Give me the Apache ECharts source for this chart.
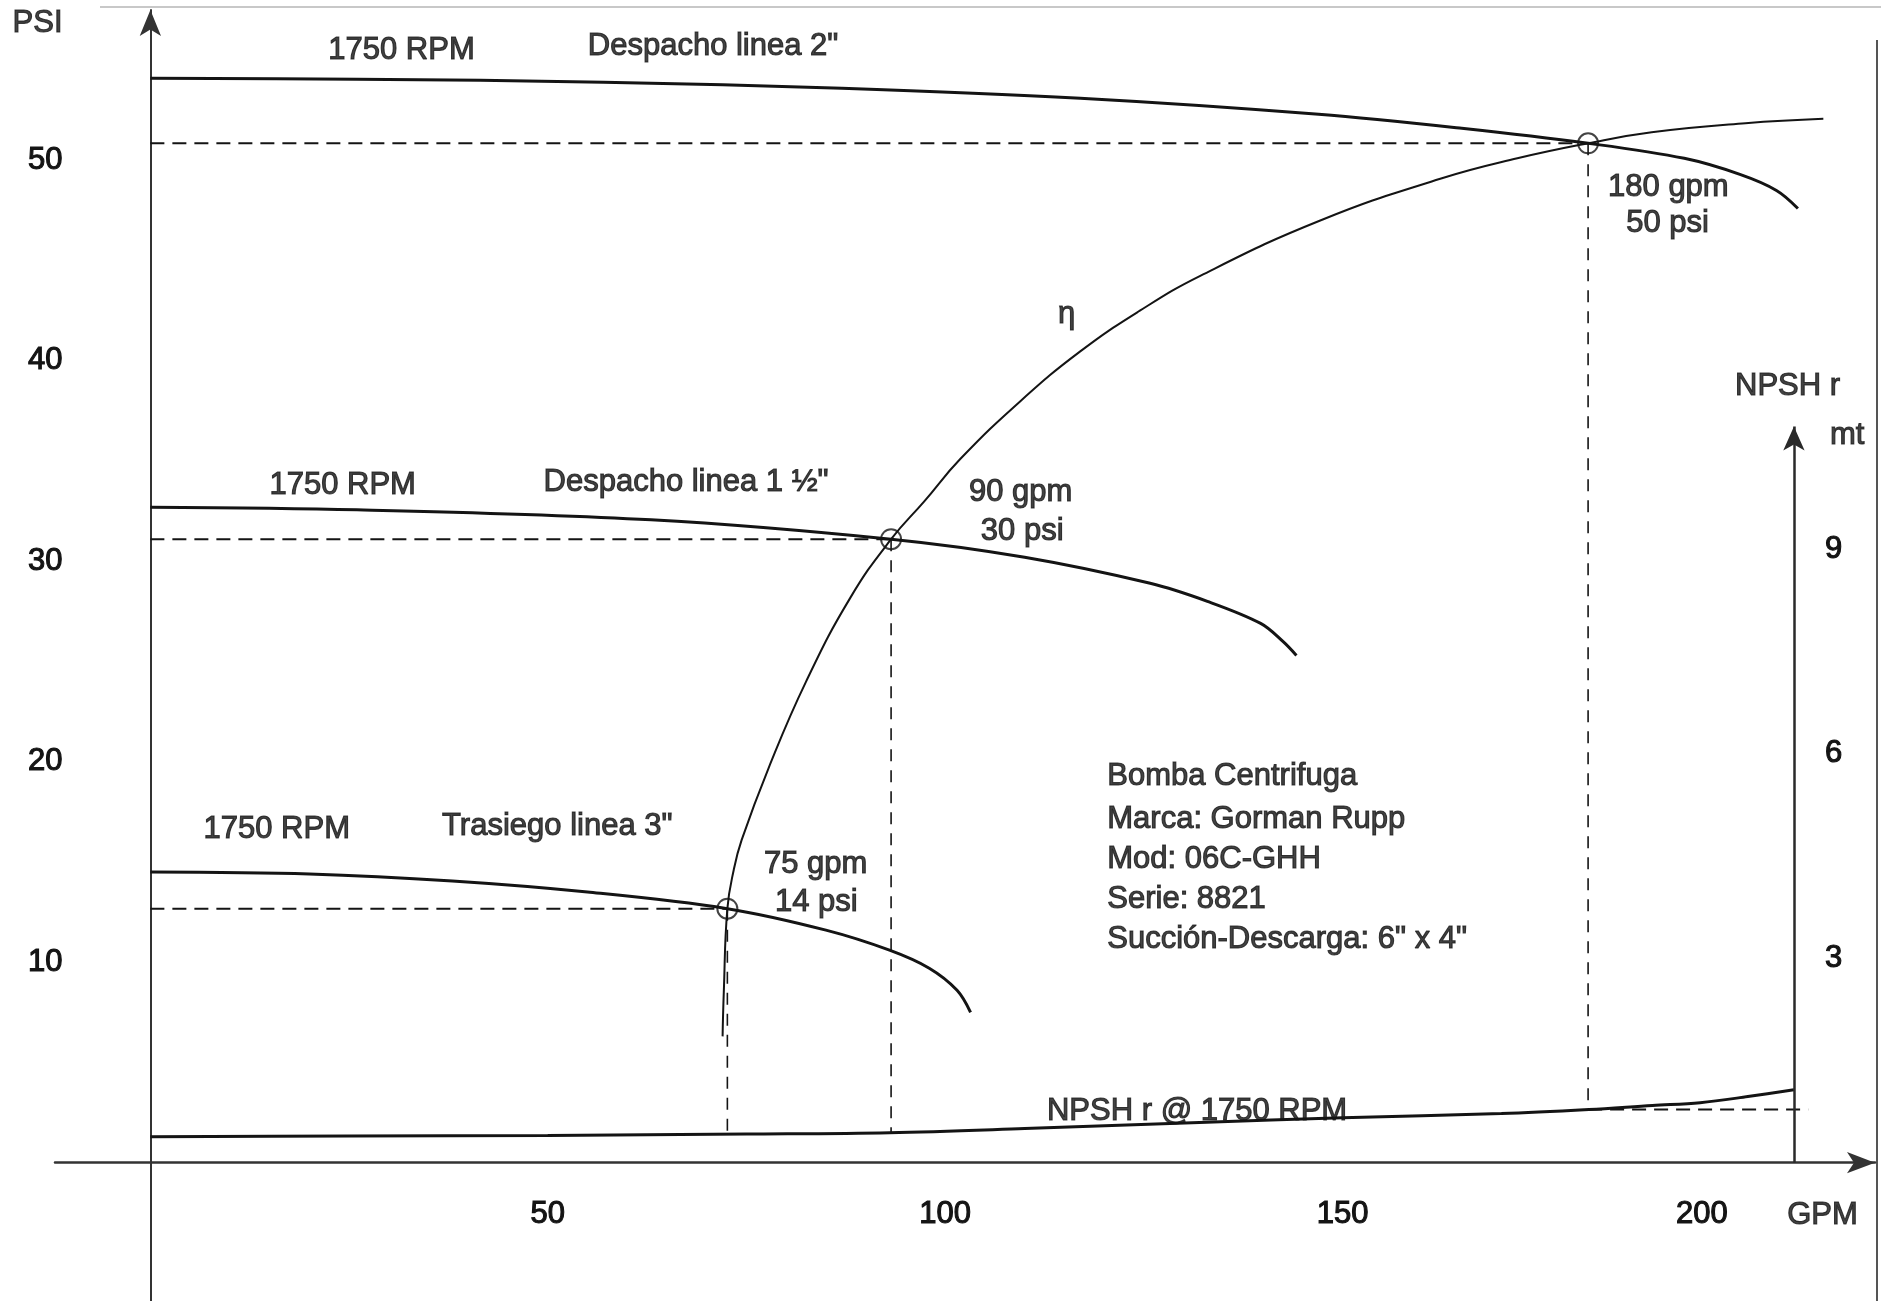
<!DOCTYPE html>
<html><head><meta charset="utf-8">
<script src="https://cdn.jsdelivr.net/npm/echarts@6/dist/echarts.min.js"></script>
<style>html,body{margin:0;padding:0;background:#fff}#c{width:1881px;height:1301px}</style>
</head><body><div id="c"></div>
<script>
// ---- data ----
const xTicks = [50, 100, 150, 200];
const yTicks = [10, 20, 30, 40, 50];
const npshTicks = [3, 6, 9];
// head curves [gpm, psi]
const head2in = [[0,54.1],[26,54.05],[57,53.9],[87,53.6],[117,53.1],[147,52.3],[165,51.6],[180.9,50.85],[193,50.1],[200,49.3],[204.6,48.5],[207.3,47.6]];
const head15in = [[0,32.7],[26,32.57],[63,32.07],[93.2,31.1],[110,30.2],[125.8,28.9],[133,28.0],[139.7,26.9],[142.5,26.0],[144.2,25.3]];
const head3in = [[0,14.5],[20,14.4],[38,14.05],[55,13.5],[72.6,12.67],[85,11.6],[93,10.6],[98,9.7],[101.5,8.6],[103.2,7.5]];
// efficiency curve [gpm, psi]
const etaCurve = [[72.0,6.3],[72.15,8.5],[72.6,12.67],[73.4,14.6],[74.4,16.1],[77.8,19.7],[82.5,24.0],[88.1,28.2],[93.2,31.1],[97.4,33.0],[101.9,35.1],[109.5,38.0],[117.0,40.47],[124.5,42.5],[132.1,44.24],[147.2,47.0],[162.3,49.08],[172,50.1],[180.9,50.85],[188.9,51.4],[200.7,51.85],[210.5,52.07]];
// NPSH required [gpm, mt]
const npshMt = [[0,0.38],[25,0.39],[50,0.40],[75,0.42],[93,0.44],[110,0.50],[132,0.59],[150,0.66],[170,0.72],[181,0.78],[189,0.84],[195,0.88],[201,0.97],[206.8,1.07]];
// operating points
const opGpm = [72.6, 93.2, 180.9];
const opPsi = [12.67, 31.1, 50.85];
const opNpshMt = [0.42, 0.44, 0.78];
const npshAxisGpm = 206.8, npshAxisTopMt = 10.8, npshDashEndGpm = 208.6;
const psiPerMt = 3.4;
// text annotations [text, gpm, psi, align]
const labels = [
  ['PSI', -14.2, 56.85, 'center'],
  ['1750 RPM', 31.6, 55.5, 'center'],
  ['Despacho linea 2"', 70.8, 55.66, 'center'],
  ['η', 115.3, 42.3, 'center'],
  ['180 gpm', 191.0, 48.65, 'center'],
  ['50 psi', 190.9, 46.85, 'center'],
  ['NPSH r', 206.0, 38.7, 'center'],
  ['mt', 213.5, 36.3, 'center'],
  ['1750 RPM', 24.2, 33.8, 'center'],
  ['Despacho linea 1 ½"', 67.4, 33.95, 'center'],
  ['90 gpm', 109.5, 33.45, 'center'],
  ['30 psi', 109.7, 31.5, 'center'],
  ['1750 RPM', 15.9, 16.6, 'center'],
  ['Trasiego linea 3"', 51.2, 16.75, 'center'],
  ['75 gpm', 83.7, 14.9, 'center'],
  ['14 psi', 83.8, 13.0, 'center'],
  ['Bomba Centrifuga', 120.4, 19.25, 'left'],
  ['Marca: Gorman Rupp', 120.4, 17.11, 'left'],
  ['Mod: 06C-GHH', 120.4, 15.11, 'left'],
  ['Serie: 8821', 120.4, 13.12, 'left'],
  ['Succión-Descarga: 6" x 4"', 120.4, 11.12, 'left'],
  ['NPSH r @ 1750 RPM', 131.7, 2.55, 'center'],
  ['GPM', 210.4, -2.64, 'center']
];

// ---- chart ----
const FONT = '"Liberation Sans", Arial, sans-serif';
const INK = '#141414';
const TXT = {color: INK, fontSize: 31, fontFamily: FONT, textBorderColor: INK, textBorderWidth: 1.1};
const chart = echarts.init(document.getElementById('c'), null, {renderer: 'canvas'});
function curve(data, width, yIdx, sm) {
  return {type: 'line', data: data, yAxisIndex: yIdx || 0, symbol: 'none', showSymbol: false,
    smooth: sm || 0.35, silent: true, z: 3,
    lineStyle: {color: INK, width: width}};
}
function dashed(data, width, dash, yIdx) {
  return {type: 'line', data: data, yAxisIndex: yIdx || 0, symbol: 'none', showSymbol: false,
    silent: true, z: 2, lineStyle: {color: INK, width: width, type: dash}};
}
const series = [
  curve(head2in, 3), curve(head15in, 3), curve(head3in, 3),
  curve(etaCurve, 2, 0, 0.45),
  Object.assign(curve(npshMt, 3, 1), {
    markLine: {silent: true, symbol: ['none', 'arrow'], symbolSize: [16, 24], label: {show: false},
      lineStyle: {color: '#2a2a2a', width: 2.5, type: 'solid'},
      data: [[{coord: [npshAxisGpm, 0]}, {coord: [npshAxisGpm, npshAxisTopMt]}]]}
  })
];
opGpm.forEach((g, i) => {
  series.push(dashed([[0, opPsi[i]], [g, opPsi[i]]], 2, [14, 8]));
  series.push(dashed([[g, opPsi[i]], [g, opNpshMt[i] * psiPerMt]], 1.6, [12, 9]));
});
series.push(dashed([[opGpm[2], opNpshMt[2]], [npshDashEndGpm, opNpshMt[2]]], 2, [14, 8], 1));
series.push({type: 'scatter', silent: true, z: 4, symbol: 'circle', symbolSize: 20,
  itemStyle: {color: 'rgba(0,0,0,0)', borderColor: INK, borderWidth: 2},
  data: opGpm.map((g, i) => [g, opPsi[i]])});
series.push({type: 'scatter', silent: true, z: 5, clip: false, symbolSize: 0,
  data: labels.map(l => ({name: l[0], value: [l[1], l[2]], label: {align: l[3]}})),
  label: Object.assign({show: true, position: 'inside', formatter: '{b}', verticalAlign: 'middle'}, TXT)});

const X_MIN = -12, X_MAX = 217, Y_MIN = -7, Y_MAX = 57.5;
const G_LEFT = 55, G_TOP = 10, G_W = 1820, G_H = 1293;
const xZeroOff = -G_W * (0 - X_MIN) / (X_MAX - X_MIN);      // move y axis line to x = 0
const yZeroOff = -G_H * (0 - Y_MIN) / (Y_MAX - Y_MIN);      // move x axis line to y = 0

chart.setOption({
  animation: false,
  backgroundColor: '#ffffff',
  grid: {left: G_LEFT, top: G_TOP, width: G_W, height: G_H, containLabel: false, outerBoundsMode: 'none'},
  xAxis: {type: 'value', min: X_MIN, max: X_MAX, position: 'bottom', offset: yZeroOff,
    axisLine: {show: true, onZero: false, symbol: ['none', 'arrow'], symbolSize: [16, 28],
      lineStyle: {color: '#333', width: 2.5}},
    axisTick: {show: false}, splitLine: {show: false},
    axisLabel: Object.assign({customValues: xTicks, margin: 36,
      formatter: v => v === 200 ? '{s|200}' : String(v),
      rich: {s: Object.assign({padding: [0, 76, 0, 0]}, TXT)}}, TXT)},
  yAxis: [
    {type: 'value', min: Y_MIN, max: Y_MAX, position: 'left', offset: xZeroOff,
      axisLine: {show: true, onZero: false, symbol: ['none', 'arrow'], symbolSize: [16, 26],
        lineStyle: {color: '#333', width: 2}},
      axisTick: {show: false}, splitLine: {show: false},
      axisLabel: Object.assign({customValues: yTicks, margin: 88}, TXT)},
    {type: 'value', position: 'right', offset: -79, min: Y_MIN / psiPerMt, max: Y_MAX / psiPerMt,
      axisLine: {show: false, onZero: false}, axisTick: {show: false}, splitLine: {show: false},
      axisLabel: Object.assign({customValues: npshTicks, margin: 29}, TXT)}
  ],
  graphic: [
    {type: 'line', silent: true, shape: {x1: 100, y1: 7, x2: 1881, y2: 7}, style: {stroke: '#c8c8c8', lineWidth: 2}},
    {type: 'line', silent: true, shape: {x1: 1877, y1: 40, x2: 1877, y2: 1301}, style: {stroke: '#555', lineWidth: 2}}
  ],
  series: series
});
</script></body></html>
